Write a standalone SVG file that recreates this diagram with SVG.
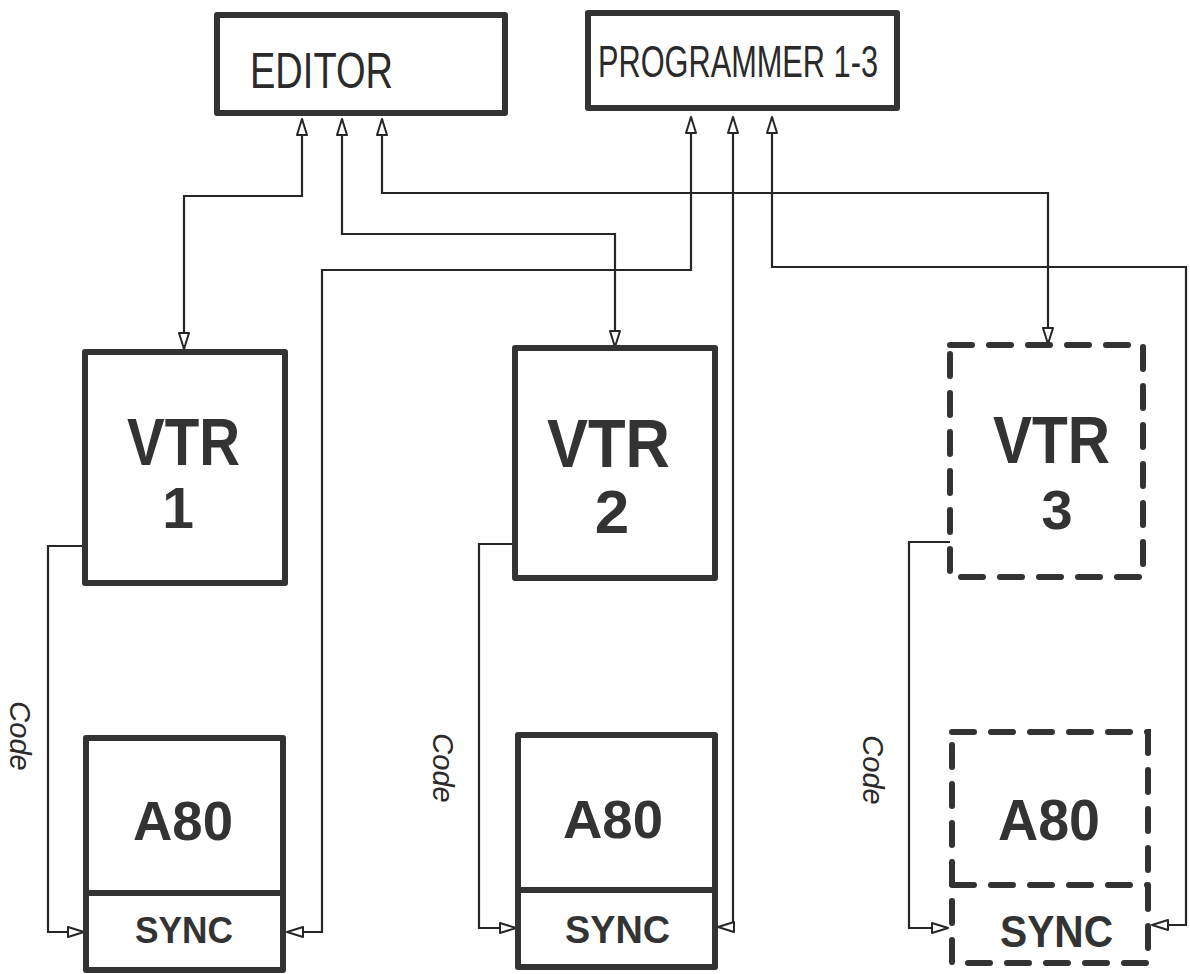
<svg xmlns="http://www.w3.org/2000/svg" width="1190" height="974" viewBox="0 0 1190 974">
  <style>
    .box { fill: none; stroke: #333; stroke-width: 6; stroke-linejoin: round; }
    .dbox { fill: none; stroke: #333; stroke-width: 6; stroke-linecap: round; stroke-dasharray: 22 17; }
    .wire { fill: none; stroke: #262626; stroke-width: 2.2; }
    .thin { font-family: "Liberation Sans", Arial, sans-serif; fill: #2a2a2a; }
    .bold { font-family: "Liberation Sans", Arial, sans-serif; font-weight: bold; fill: #333; }
    .code { font-family: "Liberation Sans", Arial, sans-serif; font-style: italic; fill: #2a2a2a; font-size: 29px; }
  </style>
  <defs>
    <marker id="arr" viewBox="0 0 18 12" refX="17" refY="6" markerWidth="18" markerHeight="12" markerUnits="userSpaceOnUse" orient="auto-start-reverse">
      <path d="M1,1 L17,6 L1,11 z" fill="#fff" stroke="#262626" stroke-width="2" stroke-linejoin="round"/>
    </marker>
  </defs>
  <rect width="1190" height="974" fill="#fff"/>

  <g id="connectors">
    <path class="wire" d="M302,119 V196 H184 V349" marker-start="url(#arr)" marker-end="url(#arr)"/>
    <path class="wire" d="M342,119 V234 H615 V347" marker-start="url(#arr)" marker-end="url(#arr)"/>
    <path class="wire" d="M382,119 V193 H1048 V344" marker-start="url(#arr)" marker-end="url(#arr)"/>
    <path class="wire" d="M691,117 V270 H322 V932 H287" marker-start="url(#arr)" marker-end="url(#arr)"/>
    <path class="wire" d="M733,117 V927 H718" marker-start="url(#arr)" marker-end="url(#arr)"/>
    <path class="wire" d="M772,117 V267 H1186 V925 H1152" marker-start="url(#arr)" marker-end="url(#arr)"/>
    <path class="wire" d="M85,546 H48 V932 H84" marker-end="url(#arr)"/>
    <path class="wire" d="M515,544 H479 V928 H516" marker-end="url(#arr)"/>
    <path class="wire" d="M950,542 H909 V928 H948" marker-end="url(#arr)"/>
  </g>

  <g id="editor">
    <rect class="box" x="217" y="15" width="288" height="98"/>
    <text class="thin" x="250" y="88" font-size="50" textLength="143" lengthAdjust="spacingAndGlyphs">EDITOR</text>
  </g>

  <g id="programmer">
    <rect class="box" x="588" y="13" width="309" height="95"/>
    <text class="thin" x="598" y="77" font-size="44" textLength="280" lengthAdjust="spacingAndGlyphs">PROGRAMMER 1-3</text>
  </g>

  <g id="vtr1">
    <rect class="box" x="85" y="352" width="200" height="231"/>
    <text class="bold" x="127" y="465" font-size="66" textLength="113" lengthAdjust="spacingAndGlyphs">VTR</text>
    <text class="bold" x="178" y="528" font-size="57" text-anchor="middle">1</text>
  </g>

  <g id="vtr2">
    <rect class="box" x="515" y="348" width="200" height="230"/>
    <text class="bold" x="547" y="467" font-size="68" textLength="123" lengthAdjust="spacingAndGlyphs">VTR</text>
    <text class="bold" x="612" y="533" font-size="62" text-anchor="middle">2</text>
  </g>

  <g id="vtr3">
    <rect class="dbox" x="950" y="345" width="193" height="232"/>
    <text class="bold" x="993" y="463" font-size="66" textLength="117" lengthAdjust="spacingAndGlyphs">VTR</text>
    <text class="bold" x="1057" y="529" font-size="56" text-anchor="middle">3</text>
  </g>

  <g id="a80-1">
    <rect class="box" x="86" y="738" width="197" height="232"/>
    <line class="box" x1="86" y1="893" x2="283" y2="893"/>
    <text class="bold" x="133" y="840" font-size="55" textLength="100" lengthAdjust="spacingAndGlyphs">A80</text>
    <text class="bold" x="135" y="943" font-size="36" textLength="98" lengthAdjust="spacingAndGlyphs">SYNC</text>
  </g>

  <g id="a80-2">
    <rect class="box" x="518" y="735" width="197" height="232"/>
    <line class="box" x1="518" y1="890" x2="715" y2="890"/>
    <text class="bold" x="563" y="838" font-size="53" textLength="100" lengthAdjust="spacingAndGlyphs">A80</text>
    <text class="bold" x="565" y="943" font-size="38" textLength="105" lengthAdjust="spacingAndGlyphs">SYNC</text>
  </g>

  <g id="a80-3">
    <rect class="dbox" x="952" y="732" width="196" height="231"/>
    <line class="dbox" x1="952" y1="885" x2="1148" y2="885"/>
    <text class="bold" x="998" y="840" font-size="58" textLength="102" lengthAdjust="spacingAndGlyphs">A80</text>
    <text class="bold" x="1000" y="947" font-size="44" textLength="113" lengthAdjust="spacingAndGlyphs">SYNC</text>
  </g>

  <g id="code-labels">
    <text class="code" transform="translate(10,736) rotate(90)" text-anchor="middle">Code</text>
    <text class="code" transform="translate(433,768) rotate(90)" text-anchor="middle">Code</text>
    <text class="code" transform="translate(863,770) rotate(90)" text-anchor="middle">Code</text>
  </g>
</svg>
